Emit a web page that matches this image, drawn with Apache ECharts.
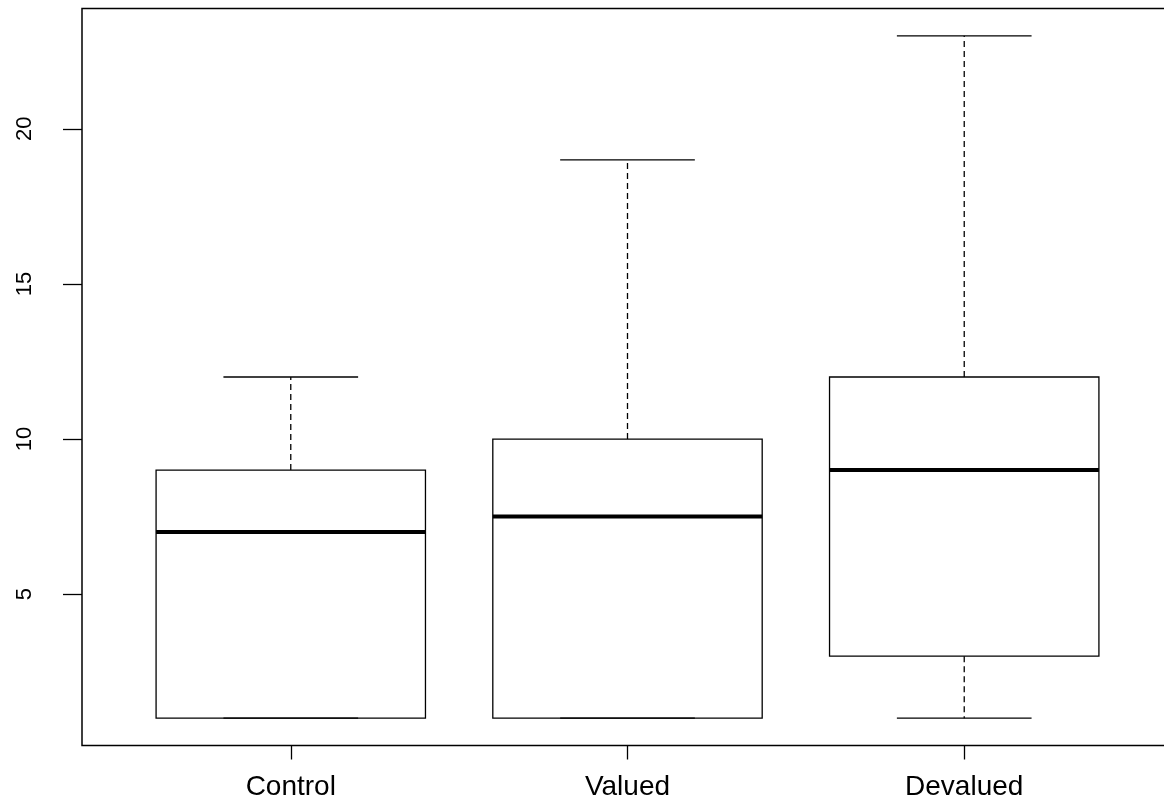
<!DOCTYPE html>
<html>
<head>
<meta charset="utf-8">
<script src="https://cdn.jsdelivr.net/npm/echarts@6/dist/echarts.min.js"></script>
<style>
  html, body { margin: 0; padding: 0; background: #fff; }
  #main { width: 1164px; height: 803px; }
</style>
</head>
<body>
<div id="main"></div>
<script>
// groups and five-number summaries
var categories = ['Control', 'Valued', 'Devalued'];
var lowerWhisker = [1, 1, 1];
var lowerQuartile = [1, 1, 3];
var medians = [7, 7.5, 9];
var upperQuartile = [9, 10, 12];
var upperWhisker = [12, 19, 23];
var yTicks = [5, 10, 15, 20];
var xTicks = [1, 2, 3];

var boxData = categories.map(function (c, i) {
  return [i + 1, lowerWhisker[i], lowerQuartile[i], medians[i], upperQuartile[i], upperWhisker[i]];
});

var chart = echarts.init(document.getElementById('main'));

function renderBox(params, api) {
  var x = api.value(0);
  var boxW = api.size([0.8, 0])[0];
  var capW = api.size([0.4, 0])[0];
  var pLow = api.coord([x, api.value(1)]);
  var pQ1 = api.coord([x, api.value(2)]);
  var pMed = api.coord([x, api.value(3)]);
  var pQ3 = api.coord([x, api.value(4)]);
  var pHigh = api.coord([x, api.value(5)]);
  var cx = pMed[0];
  var dashed = { stroke: '#000', lineWidth: 1.3, lineDash: [6, 4] };
  var solid = { stroke: '#000', lineWidth: 1.3 };
  return {
    type: 'group',
    children: [
      { type: 'line', shape: { x1: cx, y1: pQ3[1], x2: cx, y2: pHigh[1] }, style: dashed },
      { type: 'line', shape: { x1: cx, y1: pQ1[1], x2: cx, y2: pLow[1] }, style: dashed },
      { type: 'line', shape: { x1: cx - capW / 2, y1: pHigh[1], x2: cx + capW / 2, y2: pHigh[1] }, style: solid },
      { type: 'line', shape: { x1: cx - capW / 2, y1: pLow[1], x2: cx + capW / 2, y2: pLow[1] }, style: solid },
      { type: 'rect', shape: { x: cx - boxW / 2, y: pQ3[1], width: boxW, height: pQ1[1] - pQ3[1] },
        style: { fill: 'none', stroke: '#000', lineWidth: 1.3 } },
      { type: 'line', shape: { x1: cx - boxW / 2, y1: pMed[1], x2: cx + boxW / 2, y2: pMed[1] },
        style: { stroke: '#000', lineWidth: 4 } }
    ]
  };
}

var option = {
  animation: false,
  backgroundColor: '#fff',
  grid: {
    left: 82, top: 8.5, width: 1091, height: 737,
    outerBoundsMode: 'none',
    containLabel: false,
    show: true, borderColor: '#000', borderWidth: 1.5, backgroundColor: 'transparent'
  },
  xAxis: {
    type: 'value',
    min: 0.38, max: 3.62,
    axisLine: { show: false },
    splitLine: { show: false },
    axisTick: { customValues: xTicks, length: 14, lineStyle: { color: '#000', width: 1.3 } },
    axisLabel: {
      customValues: xTicks,
      formatter: function (v) { return categories[Math.round(v) - 1]; },
      color: '#000', fontFamily: 'Liberation Sans', fontSize: 28, margin: 28
    }
  },
  yAxis: {
    type: 'value',
    min: 0.12, max: 23.88,
    axisLine: { show: false },
    splitLine: { show: false },
    axisTick: { customValues: yTicks, length: 19, lineStyle: { color: '#000', width: 1.3 } },
    axisLabel: {
      customValues: yTicks,
      rotate: 90,
      color: '#000', fontFamily: 'Liberation Sans', fontSize: 22, margin: 46
    }
  },
  series: [{
    type: 'custom',
    renderItem: renderBox,
    encode: { x: 0, y: [1, 2, 3, 4, 5] },
    data: boxData,
    clip: false
  }]
};

chart.setOption(option);
</script>
</body>
</html>
